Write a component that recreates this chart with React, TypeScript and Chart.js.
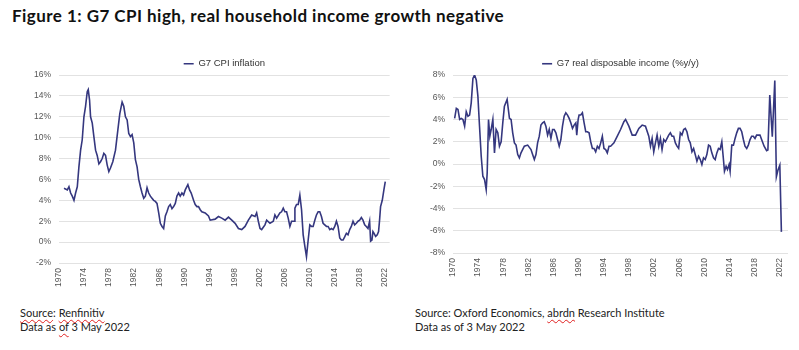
import React, { useEffect, useRef } from 'react';
import { Chart, registerables } from 'chart.js';

Chart.register(...registerables);

const FONT = "'Liberation Sans', Arial, sans-serif";
const TEXT_FONT = "Lato, 'Open Sans', sans-serif";
const LINE_COLOR = '#35377f';
const GRID_COLOR = '#e2e2e2';
const TICK_COLOR = '#555555';

const tickYears = [1970, 1974, 1978, 1982, 1986, 1990, 1994, 1998, 2002, 2006, 2010, 2014, 2018, 2022];

const cpiYears = [
  1970.8, 1971.33, 1971.59, 1971.86, 1972.12, 1972.39, 1972.65, 1972.92, 1973.18, 1973.45,
  1973.71, 1973.98, 1974.24, 1974.51, 1974.67, 1974.88, 1975.04, 1975.31, 1975.57, 1975.84,
  1976.1, 1976.37, 1976.63, 1976.9, 1977.16, 1977.43, 1977.69, 1977.96, 1978.22, 1978.59,
  1979.02, 1979.39, 1979.71, 1980.08, 1980.34, 1980.61, 1980.88, 1981.14, 1981.41, 1981.67,
  1981.94, 1982.2, 1982.47, 1982.73, 1983.0, 1983.26, 1983.53, 1983.79, 1984.06, 1984.32,
  1984.59, 1984.85, 1985.12, 1985.38, 1985.65, 1985.92, 1986.18, 1986.45, 1986.71, 1986.98,
  1987.24, 1987.51, 1987.77, 1988.04, 1988.3, 1988.57, 1988.83, 1989.1, 1989.36, 1989.63,
  1989.89, 1990.16, 1990.58, 1990.85, 1991.11, 1991.49, 1991.75, 1992.02, 1992.28, 1992.55,
  1992.81, 1993.34, 1993.87, 1994.14, 1994.93, 1995.46, 1995.99, 1996.53, 1997.06, 1997.59,
  1998.12, 1998.65, 1999.18, 1999.71, 2000.24, 2000.77, 2001.3, 2001.56, 2001.83, 2002.1,
  2002.36, 2002.89, 2003.16, 2003.69, 2004.22, 2004.48, 2004.75, 2005.28, 2005.54, 2005.81,
  2006.07, 2006.34, 2006.6, 2006.87, 2007.14, 2007.56, 2007.67, 2007.93, 2008.2, 2008.46,
  2008.73, 2008.99, 2009.26, 2009.52, 2009.79, 2010.05, 2010.32, 2010.58, 2010.85, 2011.11,
  2011.38, 2011.64, 2011.91, 2012.17, 2012.44, 2012.71, 2012.97, 2013.24, 2013.5, 2013.77,
  2014.03, 2014.3, 2014.56, 2014.83, 2015.09, 2015.36, 2015.62, 2015.89, 2016.15, 2016.42,
  2016.68, 2016.95, 2017.21, 2017.48, 2017.75, 2018.01, 2018.28, 2018.54, 2018.81, 2019.07,
  2019.34, 2019.6, 2019.76, 2019.97, 2020.13, 2020.29, 2020.56, 2020.82, 2021.03, 2021.19,
  2021.35, 2021.62, 2021.88, 2022.1,
];
const cpiValues = [
  5.16, 5.0, 5.3, 4.7, 4.4, 4.0, 4.7, 5.3, 7.2, 8.8,
  9.8, 12.0, 13.0, 14.4, 14.6, 13.6, 12.0, 11.4, 10.1, 8.8,
  8.3, 7.5, 7.7, 8.0, 8.5, 8.3, 7.4, 6.75, 7.1, 7.7,
  8.8, 10.7, 12.3, 13.4, 13.0, 12.0, 11.7, 10.4, 10.1, 10.3,
  9.5, 7.9, 7.2, 6.0, 5.3, 4.7, 4.2, 4.4, 5.2, 4.7,
  4.4, 4.2, 4.0, 3.9, 3.7, 2.8, 1.8, 1.5, 1.3, 2.5,
  2.9, 3.4, 3.6, 3.2, 3.4, 3.7, 4.4, 4.7, 4.4, 4.7,
  4.5, 5.0, 5.5, 5.0, 4.7, 4.0, 3.6, 3.4, 3.4, 3.1,
  2.9, 2.8, 2.5, 2.1, 2.2, 2.45, 2.3, 2.1, 2.4, 2.1,
  1.8, 1.3, 1.2, 1.5, 2.1, 2.6, 2.45, 2.8, 2.0, 1.3,
  1.2, 1.65, 2.1, 1.8, 2.0, 2.6, 2.3, 2.8, 2.9, 3.25,
  2.9, 2.9, 2.3, 1.5, 2.0, 2.0, 3.25, 3.6, 3.6, 4.5,
  3.1, 0.7, -0.4, -1.4, 0.2, 1.65, 1.5, 1.5, 2.1, 2.6,
  2.9, 2.9, 2.45, 1.8, 1.65, 1.5, 1.5, 1.2, 1.3, 1.2,
  1.5, 2.0, 1.5, 0.4, 0.2, 0.2, 0.5, 0.85, 0.7, 1.2,
  1.5, 2.0, 1.65, 1.8, 2.0, 2.1, 2.35, 2.1, 1.65, 1.5,
  1.3, 2.0, 0.1, 0.2, 1.0, 0.85, 0.55, 0.7, 1.0, 2.1,
  3.4, 4.0, 5.0, 5.8,
];

const incomeYears = [
  1970.26, 1970.53, 1970.79, 1971.06, 1971.32, 1971.58, 1971.85, 1972.11, 1972.38, 1972.64,
  1972.9, 1973.17, 1973.43, 1973.7, 1973.96, 1974.22, 1974.49, 1974.75, 1975.02, 1975.28,
  1975.44, 1975.65, 1975.86, 1976.07, 1976.34, 1976.6, 1976.86, 1977.13, 1977.39, 1977.66,
  1977.92, 1978.18, 1978.61, 1978.98, 1979.24, 1979.5, 1979.77, 1980.03, 1980.3, 1980.56,
  1980.82, 1981.35, 1981.88, 1982.41, 1982.67, 1982.94, 1983.2, 1983.46, 1983.73, 1983.99,
  1984.26, 1984.52, 1984.78, 1985.05, 1985.31, 1985.58, 1985.84, 1986.1, 1986.37, 1986.63,
  1986.9, 1987.16, 1987.42, 1987.69, 1987.95, 1988.22, 1988.48, 1988.74, 1989.01, 1989.27,
  1989.54, 1989.69, 1989.91, 1990.06, 1990.33, 1990.59, 1990.86, 1991.12, 1991.38, 1991.65,
  1991.91, 1992.18, 1992.44, 1992.7, 1992.97, 1993.23, 1993.5, 1993.76, 1994.02, 1994.29,
  1994.55, 1994.82, 1995.08, 1995.61, 1996.14, 1996.66, 1997.19, 1997.46, 1997.98, 1998.51,
  1999.04, 1999.57, 2000.1, 2000.62, 2001.15, 2001.42, 2001.68, 2001.94, 2002.21, 2002.47,
  2002.74, 2003.0, 2003.26, 2003.53, 2003.79, 2004.06, 2004.32, 2004.58, 2004.85, 2005.11,
  2005.38, 2005.64, 2005.9, 2006.17, 2006.43, 2006.7, 2006.96, 2007.22, 2007.49, 2007.75,
  2008.02, 2008.28, 2008.54, 2008.81, 2009.07, 2009.34, 2009.6, 2009.86, 2010.13, 2010.39,
  2010.66, 2010.92, 2011.18, 2011.45, 2011.71, 2011.98, 2012.24, 2012.5, 2012.77, 2013.03,
  2013.19, 2013.45, 2013.67, 2013.93, 2014.09, 2014.35, 2014.62, 2014.88, 2015.14, 2015.41,
  2015.67, 2015.94, 2016.2, 2016.46, 2016.73, 2016.99, 2017.26, 2017.52, 2017.78, 2018.05,
  2018.31, 2018.57, 2018.84, 2019.1, 2019.5, 2019.9, 2020.1, 2020.4, 2020.8, 2021.2,
  2021.45, 2021.7, 2022.0, 2022.25,
];
const incomeValues = [
  4.1, 5.0, 4.9, 4.0, 4.1, 4.0, 3.4, 4.7, 4.3, 4.4,
  5.5, 7.7, 8.0, 7.55, 6.1, 3.4, 0.7, -1.1, -1.4, -2.3,
  -0.8, 4.0, 2.5, 3.1, 4.0, 1.0, 3.1, 2.8, 1.6, 2.0,
  3.7, 5.2, 5.8, 4.1, 4.0, 2.8, 1.9, 1.7, 0.85, 0.55,
  1.0, 1.6, 1.7, 1.3, 0.85, 0.4, 0.85, 1.9, 2.5, 3.5,
  3.7, 3.8, 3.4, 2.6, 3.1, 2.3, 3.1, 3.1, 2.8, 2.2,
  1.6, 2.2, 3.4, 4.3, 4.6, 4.4, 4.1, 3.7, 3.2, 3.5,
  3.7, 2.6, 4.0, 4.4, 4.4, 4.6, 3.7, 2.9, 2.9, 2.8,
  2.0, 1.4, 1.4, 1.1, 1.6, 1.4, 1.9, 2.5, 1.4, 1.3,
  1.0, 1.6, 1.6, 1.9, 2.5, 3.1, 3.8, 4.0, 3.4, 2.6,
  2.6, 3.2, 3.5, 3.4, 2.5, 1.6, 2.3, 1.1, 1.9, 2.6,
  1.6, 2.3, 1.3, 2.2, 2.0, 2.3, 2.6, 2.8, 2.5, 2.5,
  1.9, 1.6, 1.4, 2.8, 2.6, 3.1, 3.2, 2.9, 2.2, 1.9,
  1.1, 1.4, 0.85, 0.25, 0.7, 0.4, -0.05, 0.55, 0.4, 0.85,
  1.7, 1.6, 1.0, 0.55, 0.4, 1.0, 1.4, 1.3, 2.0, 0.4,
  -0.65, -0.2, -0.5, -0.05, -0.65, 1.7, 1.7, 2.3, 2.8, 3.2,
  3.2, 2.9, 2.2, 1.6, 1.4, 1.7, 2.2, 2.5, 2.5, 2.3,
  2.6, 2.6, 2.6, 2.2, 1.6, 1.2, 1.25, 6.2, 2.45, 7.5,
  -1.15, -0.55, -0.1, -6.1,
];

function fixedLegendHeight(h: number) {
  return {
    id: 'fixedLegendHeight',
    beforeLayout(chart: any) {
      const lg = chart.legend;
      if (lg && !lg._fixedFit) {
        const orig = lg.fit.bind(lg);
        lg.fit = () => {
          orig();
          lg.height = h;
        };
        lg._fixedFit = true;
      }
    },
  };
}

type PanelProps = {
  left: number;
  top: number;
  width: number;
  height: number;
  label: string;
  xs: number[];
  ys: number[];
  yMin: number;
  yMax: number;
  xMax: number;
  yAxisWidth: number;
  xAxisHeight: number;
  padRight: number;
};

function Panel(p: PanelProps) {
  const ref = useRef<HTMLCanvasElement>(null);
  useEffect(() => {
    if (!ref.current) return;
    const tickFont = { family: FONT, size: 8.5 };
    const chart = new Chart(ref.current, {
      type: 'line',
      data: {
        datasets: [
          {
            label: p.label,
            data: p.xs.map((x, i) => ({ x, y: p.ys[i] })),
            borderColor: LINE_COLOR,
            backgroundColor: LINE_COLOR,
            borderWidth: 1.6,
            pointRadius: 0,
            tension: 0,
          },
        ],
      },
      options: {
        responsive: false,
        animation: false,
        devicePixelRatio: 1,
        layout: { padding: { left: 0, right: p.padRight, top: 0, bottom: 0 } },
        plugins: {
          legend: {
            position: 'top',
            fullSize: false,
            labels: {
              usePointStyle: true,
              pointStyle: 'line',
              pointStyleWidth: 10,
              padding: 14,
              color: '#333333',
              font: { family: FONT, size: 9.5 },
            },
          },
          tooltip: { enabled: false },
        },
        scales: {
          x: {
            type: 'linear',
            min: 1970,
            max: p.xMax,
            afterBuildTicks: (s: any) => {
              s.ticks = tickYears.map((v) => ({ value: v }));
            },
            afterFit: (s: any) => {
              s.height = p.xAxisHeight;
            },
            grid: { display: false, drawTicks: false },
            border: { display: false },
            ticks: {
              autoSkip: false,
              minRotation: 90,
              maxRotation: 90,
              padding: 5,
              color: TICK_COLOR,
              font: tickFont,
              callback: (v: any) => String(v),
            },
          },
          y: {
            min: p.yMin,
            max: p.yMax,
            afterFit: (s: any) => {
              s.width = p.yAxisWidth;
            },
            grid: { color: GRID_COLOR, drawTicks: false },
            border: { display: false },
            ticks: {
              stepSize: 2,
              padding: 8,
              color: TICK_COLOR,
              font: tickFont,
              callback: (v: any) => v + '%',
            },
          },
        },
      } as any,
      plugins: [fixedLegendHeight(30)],
    });
    return () => chart.destroy();
  }, []);
  return (
    <canvas
      ref={ref}
      width={p.width}
      height={p.height}
      style={{ position: 'absolute', left: p.left, top: p.top, width: p.width, height: p.height }}
    />
  );
}

const squiggle: React.CSSProperties = {
  textDecorationLine: 'underline',
  textDecorationStyle: 'wavy',
  textDecorationColor: '#e02020',
  textDecorationThickness: '1px',
  textUnderlineOffset: '2px',
};

export default function App() {
  return (
    <div
      style={{
        position: 'absolute',
        left: 0,
        top: 0,
        width: 799,
        height: 350,
        background: '#ffffff',
        overflow: 'hidden',
      }}
    >
      <div
        style={{
          position: 'absolute',
          left: 12,
          top: 6,
          fontFamily: TEXT_FONT,
          fontWeight: 700,
          fontSize: 17,
          letterSpacing: '0.45px',
          lineHeight: 1.2,
          color: '#111',
          whiteSpace: 'nowrap',
        }}
      >
        Figure 1: G7 CPI high, real household income growth negative
      </div>
      <Panel
        left={0}
        top={45}
        width={400}
        height={255}
        label="G7 CPI inflation"
        xs={cpiYears}
        ys={cpiValues}
        yMin={-2}
        yMax={16}
        xMax={2022.8}
        yAxisWidth={59}
        xAxisHeight={37}
        padRight={8}
      />
      <Panel
        left={400}
        top={45}
        width={399}
        height={255}
        label="G7 real disposable income (%y/y)"
        xs={incomeYears}
        ys={incomeValues}
        yMin={-8}
        yMax={8}
        xMax={2023.3}
        yAxisWidth={53}
        xAxisHeight={47}
        padRight={11}
      />
      <div
        style={{
          position: 'absolute',
          left: 20,
          top: 306,
          fontFamily: TEXT_FONT,
          fontSize: 11,
          lineHeight: '14px',
          color: '#222',
          whiteSpace: 'nowrap',
        }}
      >
        <div>
          <span style={squiggle}>Source</span>: <span style={squiggle}>Renfinitiv</span>
        </div>
        <div>
          Data as <span style={squiggle}>of</span> 3 May 2022
        </div>
      </div>
      <div
        style={{
          position: 'absolute',
          left: 415,
          top: 306,
          fontFamily: TEXT_FONT,
          fontSize: 11,
          lineHeight: '14px',
          color: '#222',
          whiteSpace: 'nowrap',
        }}
      >
        <div>
          Source: Oxford Economics, <span style={squiggle}>abrdn</span> Research Institute
        </div>
        <div>Data as of 3 May 2022</div>
      </div>
    </div>
  );
}
